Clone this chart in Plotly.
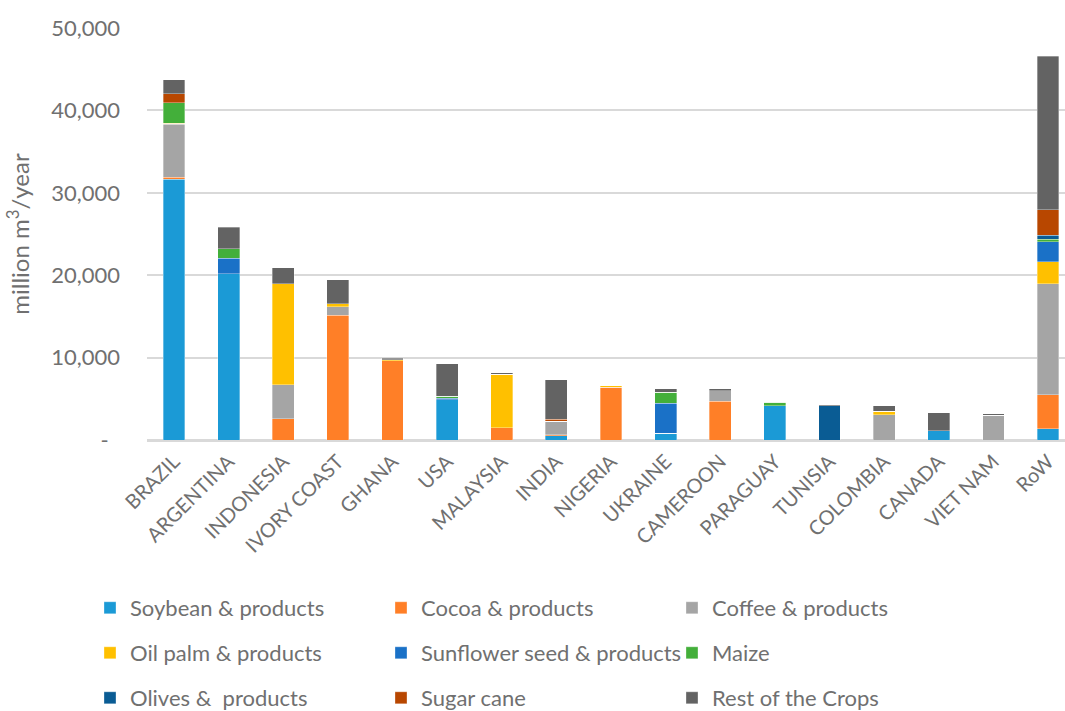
import plotly.graph_objects as go

countries = ["BRAZIL", "ARGENTINA", "INDONESIA", "IVORY COAST", "GHANA", "USA",
             "MALAYSIA", "INDIA", "NIGERIA", "UKRAINE", "CAMEROON", "PARAGUAY",
             "TUNISIA", "COLOMBIA", "CANADA", "VIET NAM", "RoW"]

soybean   = [31670, 20190, 0, 0, 0, 4890, 0, 500, 0, 790, 0, 4170, 0, 0, 1150, 0, 1390]
cocoa     = [190, 0, 2560, 15160, 9640, 0, 1470, 150, 6380, 0, 4690, 0, 0, 0, 0, 0, 4110]
coffee    = [6450, 0, 4140, 1000, 0, 0, 0, 1600, 0, 0, 1290, 0, 0, 3040, 0, 3000, 13440]
oil_palm  = [150, 0, 12280, 370, 100, 0, 6530, 0, 200, 0, 0, 0, 0, 440, 0, 0, 2700]
sunflower = [0, 1890, 0, 0, 0, 150, 0, 0, 0, 3700, 0, 0, 0, 0, 0, 0, 2420]
maize     = [2490, 1130, 0, 0, 0, 250, 0, 0, 0, 1280, 0, 400, 0, 0, 0, 0, 280]
olives    = [0, 0, 0, 0, 0, 0, 0, 0, 0, 0, 0, 0, 4130, 0, 0, 0, 480]
sugarcane = [1050, 0, 0, 0, 0, 0, 0, 250, 0, 0, 0, 0, 0, 0, 0, 0, 3100]
rest      = [1690, 2610, 1940, 2940, 180, 3950, 150, 4800, 0, 450, 240, 80, 160, 690, 2170, 200, 18640]

y_ticks = [0, 10000, 20000, 30000, 40000, 50000]
y_tick_labels = ["-\u00a0\u00a0", "10,000", "20,000", "30,000", "40,000", "50,000"]

series = [
    ("Soybean & products", soybean, "#1B9AD6", "legend"),
    ("Cocoa & products", cocoa, "#FF7F27", "legend"),
    ("Coffee & products", coffee, "#A5A5A5", "legend"),
    ("Oil palm & products", oil_palm, "#FFC000", "legend2"),
    ("Sunflower seed & products", sunflower, "#1A71C7", "legend2"),
    ("Maize", maize, "#43AF3A", "legend2"),
    ("Olives &  products", olives, "#0A5C94", "legend3"),
    ("Sugar cane", sugarcane, "#B84700", "legend3"),
    ("Rest of the Crops", rest, "#636363", "legend3"),
]

FONT = "Lato, 'Open Sans', sans-serif"
GREY = "#707070"

fig = go.Figure()
for name, vals, color, lg in series:
    fig.add_trace(go.Bar(
        x=countries, y=vals, name=name, legend=lg,
        marker=dict(color=color, line=dict(color="rgba(255,255,255,0.55)", width=0.6)),
    ))

def legend_row(ypos):
    # one legend per row, placed in container coordinates so it never pushes the plot margins
    return dict(
        orientation="h", xref="container", x=0.0845, xanchor="left",
        yref="container", y=ypos, yanchor="middle",
        font=dict(family=FONT, size=22, color=GREY),
        entrywidth=246, entrywidthmode="pixels", itemwidth=30,
        bgcolor="rgba(0,0,0,0)", traceorder="normal",
    )

fig.update_layout(
    width=1065, height=711,
    margin=dict(l=147, r=0, t=28, b=270.5),
    paper_bgcolor="white", plot_bgcolor="white",
    barmode="stack", bargap=0.6,
    font=dict(family=FONT, color=GREY),
    legend=legend_row(0.1449),
    legend2=legend_row(0.0816),
    legend3=legend_row(0.0183),
    xaxis=dict(
        range=[-0.494, 16.31], tickangle=-45, automargin=False,
        tickfont=dict(family=FONT, size=20, color=GREY),
        showgrid=False, showline=False, ticks="",
        ticklabelstandoff=5,
    ),
    yaxis=dict(
        range=[0, 50000], tickvals=y_ticks, ticktext=y_tick_labels, automargin=False,
        tickfont=dict(family=FONT, size=22, color=GREY),
        gridcolor="#D9D9D9", gridwidth=1.5,
        zeroline=True, zerolinecolor="#D9D9D9", zerolinewidth=3,
        ticklabelstandoff=26,
        title=dict(text="million m<sup>3</sup>/year",
                   font=dict(family=FONT, size=24, color=GREY), standoff=14),
    ),
)

fig.write_html("out.html")
